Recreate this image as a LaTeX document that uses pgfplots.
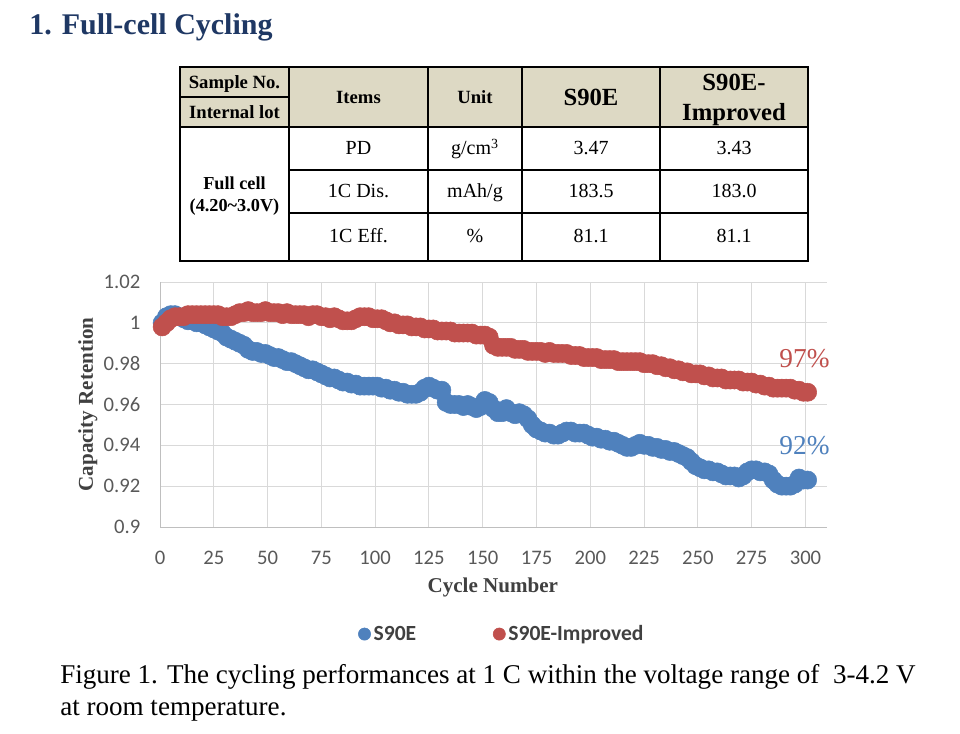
\documentclass[border=0pt]{standalone}
\usepackage{fontspec}
\setmainfont{Liberation Serif}
\newfontfamily\calibri{Carlito}
\usepackage{pgfplots}
\pgfplotsset{compat=1.18}
\definecolor{s90blue}{HTML}{4F81BD}
\definecolor{s90red}{HTML}{C0504D}
\definecolor{gridgray}{HTML}{D9D9D9}
\definecolor{axisgray}{HTML}{BFBFBF}
\definecolor{tickgray}{HTML}{595959}
\definecolor{labelgray}{HTML}{404040}
\definecolor{titleblue}{HTML}{1F3864}
\definecolor{hdrtan}{HTML}{DDD9C4}
\newcommand\fs[1]{\fontsize{#1pt}{#1pt}\selectfont}
\begin{document}
\begin{tikzpicture}
\path[use as bounding box] (0,0) rectangle (720pt,-550.5pt);
\begin{scope}[x=0.75pt,y=-0.75pt]
 % title
 \node[anchor=base west, inner sep=0pt, text=titleblue, font=\bfseries\fs{22.5}] at (29,35) {1. Full-cell Cycling};
 % table
 \fill[hdrtan] (180,67) rectangle (808,127);
 \draw[line width=1.1pt] (289,67)--(289,261) (428,67)--(428,261) (522,67)--(522,261) (660,67)--(660,261);
 \draw[line width=1.1pt] (180,97)--(289,97) (180,127)--(808,127) (289,170)--(808,170) (289,213)--(808,213);
 \draw[line width=1.1pt] (180,67) rectangle (808,261);
 \begin{scope}[every node/.style={anchor=base, inner sep=0pt}]
  \node[font=\bfseries\fs{14}] at (234.5,89) {Sample No.};
  \node[font=\bfseries\fs{14}] at (234.5,119) {Internal lot};
  \node[font=\bfseries\fs{14}] at (358.5,104) {Items};
  \node[font=\bfseries\fs{14}] at (475,104) {Unit};
  \node[font=\bfseries\fs{18.5}] at (591,106) {S90E};
  \node[font=\bfseries\fs{18.5}] at (734,91) {S90E-};
  \node[font=\bfseries\fs{18.5}] at (734,121) {Improved};
  \node[font=\fs{15}] at (358.5,155) {PD};
  \node[font=\fs{15}] at (475,155) {g/cm\textsuperscript{3}};
  \node[font=\fs{15}] at (591,155) {3.47};
  \node[font=\fs{15}] at (734,155) {3.43};
  \node[font=\fs{15}] at (358.5,198) {1C Dis.};
  \node[font=\fs{15}] at (475,198) {mAh/g};
  \node[font=\fs{15}] at (591,198) {183.5};
  \node[font=\fs{15}] at (734,198) {183.0};
  \node[font=\fs{15}] at (358.5,243) {1C Eff.};
  \node[font=\fs{15}] at (475,243) {\%};
  \node[font=\fs{15}] at (591,243) {81.1};
  \node[font=\fs{15}] at (734,243) {81.1};
  \node[font=\bfseries\fs{13.7}] at (234.5,190) {Full cell};
  \node[font=\bfseries\fs{13.7}] at (234.5,212) {(4.20\textasciitilde3.0V)};
  % caption
  \node[anchor=base west, font=\fs{20.3}] at (60,683) {Figure 1. The cycling performances at 1 C within the voltage range of\ \ 3-4.2 V};
  \node[anchor=base west, font=\fs{20.3}] at (60,715) {at room temperature.};
 \end{scope}
\end{scope}
\begin{axis}[
 at={(120pt,-395.25pt)}, anchor=south west,
 scale only axis, width=500.25pt, height=183.75pt,
 xmin=0, xmax=310, ymin=0.9, ymax=1.02,
 xtick={0,25,50,75,100,125,150,175,200,225,250,275,300},
 xticklabels={0,25,50,75,100,125,150,175,200,225,250,275,300},
 ytick={0.9,0.92,0.94,0.96,0.98,1,1.02},
 yticklabels={0.9,0.92,0.94,0.96,0.98,1,1.02},
 grid=major, major grid style={draw=gridgray, line width=0.75pt},
 axis x line*=bottom, axis y line*=left,
 axis line style={draw=axisgray, line width=0.75pt, -},
 major tick length=0pt, tick style={draw=none},
 /pgf/number format/assume math mode=true,
 ticklabel style={font=\calibri\fs{15.5}, text=tickgray},
 xticklabel style={yshift=-14.5pt},
 yticklabel style={xshift=-11.2pt},
 xlabel={Cycle Number}, ylabel={Capacity Retention},
 label style={font=\bfseries\fs{15.8}, text=labelgray},
 xlabel style={at={(axis description cs:0.499,-0.245)}, anchor=center},
 ylabel style={at={(axis description cs:-0.108,0.5)}, anchor=center},
 clip=false,
 legend style={at={(axis description cs:0.513,-0.437)}, anchor=center, draw=none, fill=none,
   legend columns=2, font=\calibri\bfseries\fs{16.2}, text=labelgray,
   /tikz/every even column/.append style={column sep=55.5pt}},
 legend image code/.code={\fill[#1] (0pt,0pt) circle (4.6pt);},
]
\addplot[only marks, mark=*, mark size=6.8pt, color=s90blue, mark options={draw=none, fill=s90blue}] coordinates {
(1,1.000)(3,1.003)(5,1.004)(7,1.004)(9,1.003)(11,1.002)(13,1.001)(15,1.001)(17,1.000)(19,1.000)(21,0.999)(23,0.998)(25,0.997)(27,0.996)(29,0.995)(31,0.993)(33,0.992)(35,0.991)(37,0.990)(39,0.989)(41,0.987)(43,0.986)(45,0.986)(47,0.985)(49,0.985)(51,0.984)(53,0.983)(55,0.983)(57,0.982)(59,0.981)(61,0.981)(63,0.980)(65,0.979)(67,0.978)(69,0.977)(71,0.977)(73,0.976)(75,0.975)(77,0.974)(79,0.973)(81,0.973)(83,0.972)(85,0.971)(87,0.971)(89,0.970)(91,0.970)(93,0.969)(95,0.969)(97,0.969)(99,0.969)(101,0.969)(103,0.968)(105,0.968)(107,0.967)(109,0.967)(111,0.966)(113,0.966)(115,0.965)(117,0.965)(119,0.965)(121,0.966)(123,0.968)(125,0.969)(127,0.968)(129,0.967)(131,0.967)(133,0.961)(135,0.960)(137,0.960)(139,0.960)(141,0.959)(143,0.960)(145,0.959)(147,0.958)(149,0.959)(151,0.962)(153,0.961)(155,0.958)(157,0.956)(159,0.956)(161,0.958)(163,0.956)(165,0.955)(167,0.956)(169,0.955)(171,0.953)(173,0.950)(175,0.948)(177,0.947)(179,0.946)(181,0.946)(183,0.945)(185,0.945)(187,0.946)(189,0.947)(191,0.947)(193,0.946)(195,0.946)(197,0.946)(199,0.945)(201,0.944)(203,0.944)(205,0.943)(207,0.943)(209,0.942)(211,0.942)(213,0.941)(215,0.940)(217,0.939)(219,0.939)(221,0.940)(223,0.941)(225,0.940)(227,0.940)(229,0.939)(231,0.939)(233,0.938)(235,0.938)(237,0.937)(239,0.937)(241,0.936)(243,0.935)(245,0.934)(247,0.932)(249,0.930)(251,0.929)(253,0.928)(255,0.928)(257,0.927)(259,0.927)(261,0.926)(263,0.925)(265,0.925)(267,0.925)(269,0.924)(271,0.925)(273,0.927)(275,0.928)(277,0.928)(279,0.927)(281,0.927)(283,0.926)(285,0.923)(287,0.921)(289,0.920)(291,0.920)(293,0.920)(295,0.921)(297,0.924)(299,0.923)(301,0.923)
};
\addlegendentry{S90E}
\addplot[only marks, mark=*, mark size=6.8pt, color=s90red, mark options={draw=none, fill=s90red}] coordinates {
(1,0.998)(3,1.000)(5,1.002)(7,1.003)(9,1.003)(11,1.003)(13,1.004)(15,1.004)(17,1.004)(19,1.004)(21,1.004)(23,1.004)(25,1.004)(27,1.004)(29,1.003)(31,1.003)(33,1.003)(35,1.004)(37,1.005)(39,1.005)(41,1.006)(43,1.005)(45,1.005)(47,1.005)(49,1.006)(51,1.005)(53,1.005)(55,1.005)(57,1.004)(59,1.005)(61,1.004)(63,1.004)(65,1.004)(67,1.004)(69,1.003)(71,1.004)(73,1.004)(75,1.003)(77,1.003)(79,1.002)(81,1.003)(83,1.002)(85,1.001)(87,1.001)(89,1.001)(91,1.002)(93,1.003)(95,1.003)(97,1.003)(99,1.002)(101,1.002)(103,1.002)(105,1.001)(107,1.000)(109,1.000)(111,0.999)(113,0.999)(115,0.999)(117,0.998)(119,0.998)(121,0.998)(123,0.997)(125,0.997)(127,0.997)(129,0.996)(131,0.996)(133,0.996)(135,0.996)(137,0.995)(139,0.995)(141,0.995)(143,0.995)(145,0.995)(147,0.994)(149,0.994)(151,0.994)(153,0.993)(155,0.989)(157,0.988)(159,0.988)(161,0.988)(163,0.988)(165,0.987)(167,0.987)(169,0.987)(171,0.986)(173,0.986)(175,0.986)(177,0.986)(179,0.985)(181,0.986)(183,0.985)(185,0.985)(187,0.985)(189,0.985)(191,0.984)(193,0.984)(195,0.984)(197,0.983)(199,0.983)(201,0.983)(203,0.983)(205,0.982)(207,0.982)(209,0.982)(211,0.982)(213,0.981)(215,0.981)(217,0.981)(219,0.981)(221,0.981)(223,0.981)(225,0.980)(227,0.980)(229,0.980)(231,0.979)(233,0.979)(235,0.978)(237,0.978)(239,0.977)(241,0.977)(243,0.976)(245,0.976)(247,0.975)(249,0.975)(251,0.975)(253,0.974)(255,0.974)(257,0.973)(259,0.973)(261,0.973)(263,0.972)(265,0.972)(267,0.972)(269,0.972)(271,0.971)(273,0.971)(275,0.971)(277,0.970)(279,0.970)(281,0.969)(283,0.969)(285,0.968)(287,0.968)(289,0.968)(291,0.968)(293,0.968)(295,0.967)(297,0.967)(299,0.966)(301,0.966)
};
\addlegendentry{S90E-Improved}
\end{axis}
\begin{scope}[x=0.75pt,y=-0.75pt]
 \node[anchor=base, inner sep=0pt, font=\fs{20.5}, text=s90red] at (804.5,367) {97\%};
 \node[anchor=base, inner sep=0pt, font=\fs{20.5}, text=s90blue] at (804.5,454) {92\%};
\end{scope}
\end{tikzpicture}
\end{document}
